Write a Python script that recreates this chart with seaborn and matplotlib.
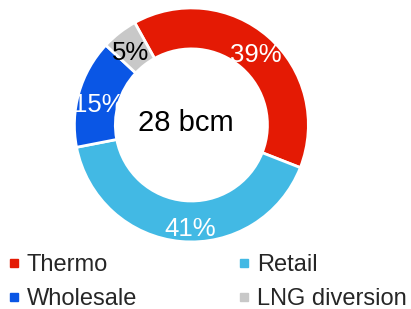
import matplotlib
matplotlib.use("Agg")
import matplotlib.pyplot as plt
from matplotlib.lines import Line2D
import numpy as np
import seaborn as sns

# data
segments = ["Thermo", "Retail", "Wholesale", "LNG diversion"]
shares = [39, 41, 15, 5]
pct_labels = ["39%", "41%", "15%", "5%"]
colors = ["#E41A04", "#42B9E4", "#0A56E5", "#C8C8C8"]
label_colors = ["white", "white", "white", "black"]
total_label = "28 bcm"

sns.set_style("white")
plt.rcParams["font.family"] = ["Liberation Sans", "DejaVu Sans"]

fig = plt.figure(figsize=(4.11, 3.09), dpi=100)
ax = fig.add_axes([0.181, 0.217, 234 / 411, 234 / 309])

wedges, _ = ax.pie(
    shares,
    colors=colors,
    startangle=119,
    counterclock=False,
    radius=1,
    wedgeprops=dict(width=0.35, edgecolor="white", linewidth=2),
)

ax.set_xlim(-1, 1)
ax.set_ylim(-1, 1)
ax.set_aspect("equal")
ax.axis("off")

# small hand nudges so labels sit like the original
nudges = [(0.0, -0.01), (0.07, -0.03), (0.02, -0.04), (0.0, -0.025)]
for w, lab, c, (dx, dy) in zip(wedges, pct_labels, label_colors, nudges):
    ang = np.deg2rad((w.theta1 + w.theta2) / 2)
    r = 0.84
    ax.text(r * np.cos(ang) + dx, r * np.sin(ang) + dy, lab, ha="center",
            va="center_baseline", fontsize=18.5, color=c)

ax.text(-0.05, 0.04, total_label, ha="center", va="center_baseline",
        fontsize=21, color="black")

handles = [Line2D([0], [0], marker="s", linestyle="none", markersize=5.5,
                  markerfacecolor=c, markeredgecolor=c) for c in colors]
# legend columns: Thermo / Wholesale, Retail / LNG diversion
order = [0, 2, 1, 3]
fig.legend([handles[i] for i in order], [segments[i] for i in order],
           loc="lower left", bbox_to_anchor=(7.6 / 411, -0.003), ncol=2,
           frameon=False, fontsize=17, handlelength=0.5, handletextpad=0.32,
           columnspacing=4.25, labelspacing=0.5, borderpad=0,
           borderaxespad=0)

fig.savefig("out.png", dpi=100)
